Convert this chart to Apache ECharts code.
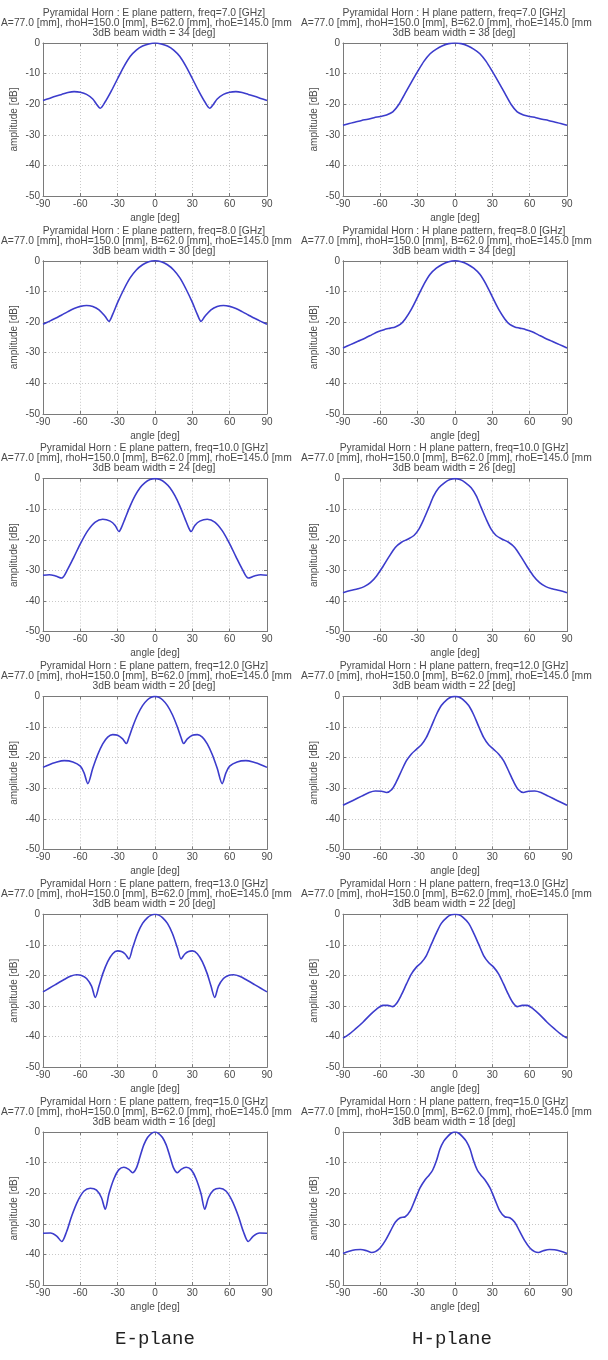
<!DOCTYPE html>
<html>
<head>
<meta charset="utf-8">
<script src="https://cdn.jsdelivr.net/npm/echarts@6/dist/echarts.min.js"></script>
<style>
  html, body { margin: 0; padding: 0; background: #fff; }
  #chart { width: 608px; height: 1360px; }
</style>
</head>
<body>
<div id="chart"></div>
<script>
// frequencies [GHz] and 3dB beam widths [deg] per row
const freqs = [7.0, 8.0, 10.0, 12.0, 13.0, 15.0];
const eBeam = [34, 30, 24, 20, 20, 16];
const hBeam = [38, 34, 26, 22, 22, 18];

const xTicks = [-90, -60, -30, 0, 30, 60, 90];
const yTicks = [-50, -40, -30, -20, -10, 0];

// E plane patterns [angle deg, amplitude dB]
const e7 = [[-90,-18.8],[-85,-18.1],[-80,-17.4],[-75,-16.8],[-70,-16.2],[-65,-15.9],[-60,-16.1],[-55,-16.8],[-50,-18.3],[-47,-20],[-44,-21.3],[-40,-19.2],[-35,-15.6],[-30,-11.6],[-25,-7.7],[-20,-4.4],[-15,-2.3],[-10,-1.0],[-5,-0.3],[0,0],[5,-0.3],[10,-1.0],[15,-2.3],[20,-4.4],[25,-7.7],[30,-11.6],[35,-15.6],[40,-19.2],[44,-21.3],[47,-20],[50,-18.3],[55,-16.8],[60,-16.1],[65,-15.9],[70,-16.2],[75,-16.8],[80,-17.4],[85,-18.1],[90,-18.8]];
const e8 = [[-90,-20.7],[-85,-19.8],[-80,-18.8],[-75,-17.7],[-70,-16.6],[-65,-15.6],[-60,-14.9],[-55,-14.6],[-50,-14.9],[-45,-16.0],[-40,-18.2],[-37,-19.8],[-34,-17.5],[-30,-13.6],[-25,-9.3],[-20,-5.6],[-15,-3.0],[-10,-1.3],[-5,-0.3],[0,0],[5,-0.3],[10,-1.3],[15,-3.0],[20,-5.6],[25,-9.3],[30,-13.6],[34,-17.5],[37,-19.8],[40,-18.2],[45,-16.0],[50,-14.9],[55,-14.6],[60,-14.9],[65,-15.6],[70,-16.6],[75,-17.7],[80,-18.8],[85,-19.8],[90,-20.7]];
const e10 = [[-90,-31.6],[-85,-31.4],[-80,-31.8],[-75,-32.5],[-70,-29.5],[-65,-25.5],[-60,-21.3],[-54,-17.0],[-48,-14.2],[-42,-13.3],[-36,-13.9],[-32,-15.3],[-29,-17.3],[-27,-16.0],[-24,-13.0],[-20,-9.0],[-16,-5.6],[-12,-3.0],[-8,-1.3],[-4,-0.3],[0,0],[4,-0.3],[8,-1.3],[12,-3.0],[16,-5.6],[20,-9.0],[24,-13.0],[27,-16.0],[29,-17.3],[32,-15.3],[36,-13.9],[42,-13.3],[48,-14.2],[54,-17.0],[60,-21.3],[65,-25.5],[70,-29.5],[75,-32.5],[80,-31.8],[85,-31.4],[90,-31.6]];
const e12 = [[-90,-23.2],[-85,-22.3],[-80,-21.6],[-73,-21.0],[-66,-21.4],[-60,-22.8],[-57,-25.0],[-54,-28.5],[-50,-23.5],[-46,-19.0],[-42,-15.5],[-38,-13.3],[-34,-12.5],[-30,-12.7],[-26,-13.9],[-23,-15.4],[-21,-13.5],[-18,-10.0],[-14,-6.0],[-10,-3.0],[-6,-1.1],[-3,-0.3],[0,0],[3,-0.3],[6,-1.1],[10,-3.0],[14,-6.0],[18,-10.0],[21,-13.5],[23,-15.4],[26,-13.9],[30,-12.7],[34,-12.5],[38,-13.3],[42,-15.5],[46,-19.0],[50,-23.5],[54,-28.5],[57,-25.0],[60,-22.8],[66,-21.4],[73,-21.0],[80,-21.6],[85,-22.3],[90,-23.2]];
const e13 = [[-90,-25.4],[-85,-24.2],[-80,-23.0],[-74,-21.6],[-68,-20.3],[-63,-19.8],[-59,-20.0],[-55,-21.0],[-51,-23.5],[-48,-27.2],[-45,-23.5],[-42,-19.5],[-38,-15.5],[-34,-12.9],[-30,-12.0],[-27,-12.2],[-24,-13.0],[-21,-14.6],[-18,-11.0],[-14,-6.3],[-10,-3.0],[-6,-1.1],[-3,-0.3],[0,0],[3,-0.3],[6,-1.1],[10,-3.0],[14,-6.3],[18,-11.0],[21,-14.6],[24,-13.0],[27,-12.2],[30,-12.0],[34,-12.9],[38,-15.5],[42,-19.5],[45,-23.5],[48,-27.2],[51,-23.5],[55,-21.0],[59,-20.0],[63,-19.8],[68,-20.3],[74,-21.6],[80,-23.0],[85,-24.2],[90,-25.4]];
const e15 = [[-90,-33.1],[-84,-33.0],[-79,-34.0],[-75,-35.8],[-71,-32.5],[-67,-27.5],[-62,-22.5],[-57,-19.3],[-52,-18.4],[-47,-19.0],[-43,-21.5],[-40,-25.2],[-37,-20.2],[-33,-15.3],[-29,-12.3],[-25,-11.5],[-21,-12.2],[-18,-13.3],[-15,-11.8],[-12,-8.0],[-9,-4.2],[-6,-1.8],[-3,-0.5],[0,0],[3,-0.5],[6,-1.8],[9,-4.2],[12,-8.0],[15,-11.8],[18,-13.3],[21,-12.2],[25,-11.5],[29,-12.3],[33,-15.3],[37,-20.2],[40,-25.2],[43,-21.5],[47,-19.0],[52,-18.4],[57,-19.3],[62,-22.5],[67,-27.5],[71,-32.5],[75,-35.8],[79,-34.0],[84,-33.0],[90,-33.1]];

// H plane patterns [angle deg, amplitude dB]
const h7 = [[-90,-26.9],[-85,-26.3],[-80,-25.8],[-75,-25.3],[-70,-24.9],[-65,-24.4],[-60,-24.0],[-55,-23.5],[-50,-22.5],[-45,-20.0],[-40,-16.4],[-35,-12.8],[-30,-9.3],[-25,-6.0],[-20,-3.5],[-15,-2.0],[-10,-0.9],[-5,-0.2],[0,0],[5,-0.2],[10,-0.9],[15,-2.0],[20,-3.5],[25,-6.0],[30,-9.3],[35,-12.8],[40,-16.4],[45,-20.0],[50,-22.5],[55,-23.5],[60,-24.0],[65,-24.4],[70,-24.9],[75,-25.3],[80,-25.8],[85,-26.3],[90,-26.9]];
const h8 = [[-90,-28.5],[-84,-27.4],[-78,-26.3],[-72,-25.2],[-67,-24.2],[-62,-23.2],[-57,-22.5],[-52,-22.0],[-48,-21.6],[-44,-20.8],[-40,-19.0],[-35,-15.8],[-30,-11.8],[-25,-7.7],[-20,-4.4],[-15,-2.4],[-10,-1.1],[-5,-0.3],[0,0],[5,-0.3],[10,-1.1],[15,-2.4],[20,-4.4],[25,-7.7],[30,-11.8],[35,-15.8],[40,-19.0],[44,-20.8],[48,-21.6],[52,-22.0],[57,-22.5],[62,-23.2],[67,-24.2],[72,-25.2],[78,-26.3],[84,-27.4],[90,-28.5]];
const h10 = [[-90,-37.3],[-84,-36.6],[-78,-36.0],[-73,-35.3],[-68,-34.0],[-63,-31.8],[-58,-28.8],[-53,-25.5],[-48,-22.5],[-43,-20.8],[-38,-19.8],[-33,-18.6],[-29,-16.5],[-25,-13.2],[-21,-9.4],[-17,-5.6],[-13,-3.0],[-8,-1.2],[-4,-0.3],[0,0],[4,-0.3],[8,-1.2],[13,-3.0],[17,-5.6],[21,-9.4],[25,-13.2],[29,-16.5],[33,-18.6],[38,-19.8],[43,-20.8],[48,-22.5],[53,-25.5],[58,-28.8],[63,-31.8],[68,-34.0],[73,-35.3],[78,-36.0],[84,-36.6],[90,-37.3]];
const h12 = [[-90,-35.6],[-82,-34.0],[-75,-32.6],[-69,-31.4],[-64,-30.9],[-59,-31.0],[-55,-31.4],[-51,-30.5],[-47,-27.8],[-43,-24.3],[-39,-21.0],[-35,-18.8],[-31,-17.3],[-27,-15.8],[-23,-13.4],[-19,-9.8],[-15,-6.0],[-11,-3.0],[-6,-0.9],[-3,-0.2],[0,0],[3,-0.2],[6,-0.9],[11,-3.0],[15,-6.0],[19,-9.8],[23,-13.4],[27,-15.8],[31,-17.3],[35,-18.8],[39,-21.0],[43,-24.3],[47,-27.8],[51,-30.5],[55,-31.4],[59,-31.0],[64,-30.9],[69,-31.4],[75,-32.6],[82,-34.0],[90,-35.6]];
const h13 = [[-90,-40.5],[-85,-39.2],[-80,-37.5],[-74,-35.3],[-68,-32.8],[-63,-31.0],[-58,-29.8],[-54,-29.8],[-50,-30.2],[-47,-29.2],[-43,-26.3],[-39,-22.8],[-35,-19.5],[-31,-17.3],[-27,-15.8],[-23,-13.5],[-19,-9.8],[-15,-6.2],[-11,-3.0],[-6,-0.9],[-3,-0.2],[0,0],[3,-0.2],[6,-0.9],[11,-3.0],[15,-6.2],[19,-9.8],[23,-13.5],[27,-15.8],[31,-17.3],[35,-19.5],[39,-22.8],[43,-26.3],[47,-29.2],[50,-30.2],[54,-29.8],[58,-29.8],[63,-31.0],[68,-32.8],[74,-35.3],[80,-37.5],[85,-39.2],[90,-40.5]];
const h15 = [[-90,-39.7],[-85,-39.0],[-80,-38.5],[-76,-38.4],[-71,-38.8],[-67,-39.4],[-64,-39.1],[-60,-37.8],[-56,-35.5],[-52,-32.5],[-48,-29.5],[-44,-28.0],[-40,-27.7],[-36,-25.8],[-32,-22.0],[-28,-18.2],[-24,-15.6],[-21,-14.2],[-18,-12.5],[-15,-9.5],[-12,-5.5],[-9,-3.0],[-6,-1.5],[-3,-0.4],[0,0],[3,-0.4],[6,-1.5],[9,-3.0],[12,-5.5],[15,-9.5],[18,-12.5],[21,-14.2],[24,-15.6],[28,-18.2],[32,-22.0],[36,-25.8],[40,-27.7],[44,-28.0],[48,-29.5],[52,-32.5],[56,-35.5],[60,-37.8],[64,-39.1],[67,-39.4],[71,-38.8],[76,-38.4],[80,-38.5],[85,-39.0],[90,-39.7]];

const ePlane = [e7, e8, e10, e12, e13, e15];
const hPlane = [h7, h8, h10, h12, h13, h15];

const chart = echarts.init(document.getElementById('chart'));

const font = "'Liberation Sans', Arial, sans-serif";
const txt = '#4a4a4a';
const frame = '#7a7a7a';
const rowTop = 43, rowStep = 217.8, plotH = 153;
const colLeft = [43, 343], plotW = 224;

const grids = [], xAxes = [], yAxes = [], series = [], texts = [];

for (let r = 0; r < 6; r++) {
    for (let c = 0; c < 2; c++) {
        const g = grids.length;
        const top = rowTop + r * rowStep;
        grids.push({ left: colLeft[c], top: top, width: plotW, height: plotH, show: false });

        const tick = { show: true, inside: true, length: 3, lineStyle: { color: frame } };
        xAxes.push({
            type: 'value', gridIndex: g, position: 'bottom',
            min: -90, max: 90, interval: 30,
            axisLine: { show: true, onZero: false, lineStyle: { color: frame } },
            axisTick: tick,
            axisLabel: { fontSize: 10, color: txt, margin: 3, fontFamily: font },
            splitLine: { show: true, lineStyle: { color: '#c8c8c8', type: [1, 2] } },
            name: 'angle [deg]', nameLocation: 'middle', nameGap: 17,
            nameTextStyle: { fontSize: 10, color: txt, fontFamily: font }
        });
        xAxes.push({
            type: 'value', gridIndex: g, position: 'top',
            min: -90, max: 90, interval: 30,
            axisLine: { show: true, onZero: false, lineStyle: { color: frame } },
            axisTick: tick, axisLabel: { show: false }, splitLine: { show: false }
        });
        yAxes.push({
            type: 'value', gridIndex: g, position: 'left',
            min: -50, max: 0, interval: 10,
            axisLine: { show: true, onZero: false, lineStyle: { color: frame } },
            axisTick: tick,
            axisLabel: { fontSize: 10, color: txt, margin: 3, fontFamily: font },
            splitLine: { show: true, lineStyle: { color: '#c8c8c8', type: [1, 2] } },
            name: 'amplitude [dB]', nameLocation: 'middle', nameGap: 24, nameRotate: 90,
            nameTextStyle: { fontSize: 10, color: txt, fontFamily: font }
        });
        yAxes.push({
            type: 'value', gridIndex: g, position: 'right',
            min: -50, max: 0, interval: 10,
            axisLine: { show: true, onZero: false, lineStyle: { color: frame } },
            axisTick: tick, axisLabel: { show: false }, splitLine: { show: false }
        });

        series.push({
            type: 'line',
            xAxisIndex: 2 * g, yAxisIndex: 2 * g,
            data: c === 0 ? ePlane[r] : hPlane[r],
            showSymbol: false, smooth: 0.3,
            lineStyle: { color: '#3c3ccc', width: 1.6 }
        });

        const ox = c * 300;
        const plane = c === 0 ? 'E' : 'H';
        const bw = c === 0 ? eBeam[r] : hBeam[r];
        const ts = { fontSize: 10.3, fill: txt, fontFamily: font, verticalAlign: 'middle' };
        texts.push({ type: 'text', x: ox + 154, y: top - 30,
            style: Object.assign({ text: 'Pyramidal Horn : ' + plane + ' plane pattern, freq=' + freqs[r].toFixed(1) + ' [GHz]', align: 'center' }, ts) });
        texts.push({ type: 'text', x: ox + 1, y: top - 20,
            style: Object.assign({ text: 'A=77.0 [mm], rhoH=150.0 [mm], B=62.0 [mm], rhoE=145.0 [mm', align: 'left' }, ts) });
        texts.push({ type: 'text', x: ox + 154, y: top - 10,
            style: Object.assign({ text: '3dB beam width = ' + bw + ' [deg]', align: 'center' }, ts) });
    }
}

const capStyle = { fontSize: 19, fill: '#222', fontFamily: "'Liberation Mono', 'DejaVu Sans Mono', monospace", align: 'center', verticalAlign: 'middle' };
texts.push({ type: 'text', x: 155, y: 1339, style: Object.assign({ text: 'E-plane' }, capStyle) });
texts.push({ type: 'text', x: 452, y: 1339, style: Object.assign({ text: 'H-plane' }, capStyle) });

chart.setOption({
    backgroundColor: '#fff',
    animation: false,
    grid: grids,
    xAxis: xAxes,
    yAxis: yAxes,
    series: series,
    graphic: texts
});
</script>
</body>
</html>
